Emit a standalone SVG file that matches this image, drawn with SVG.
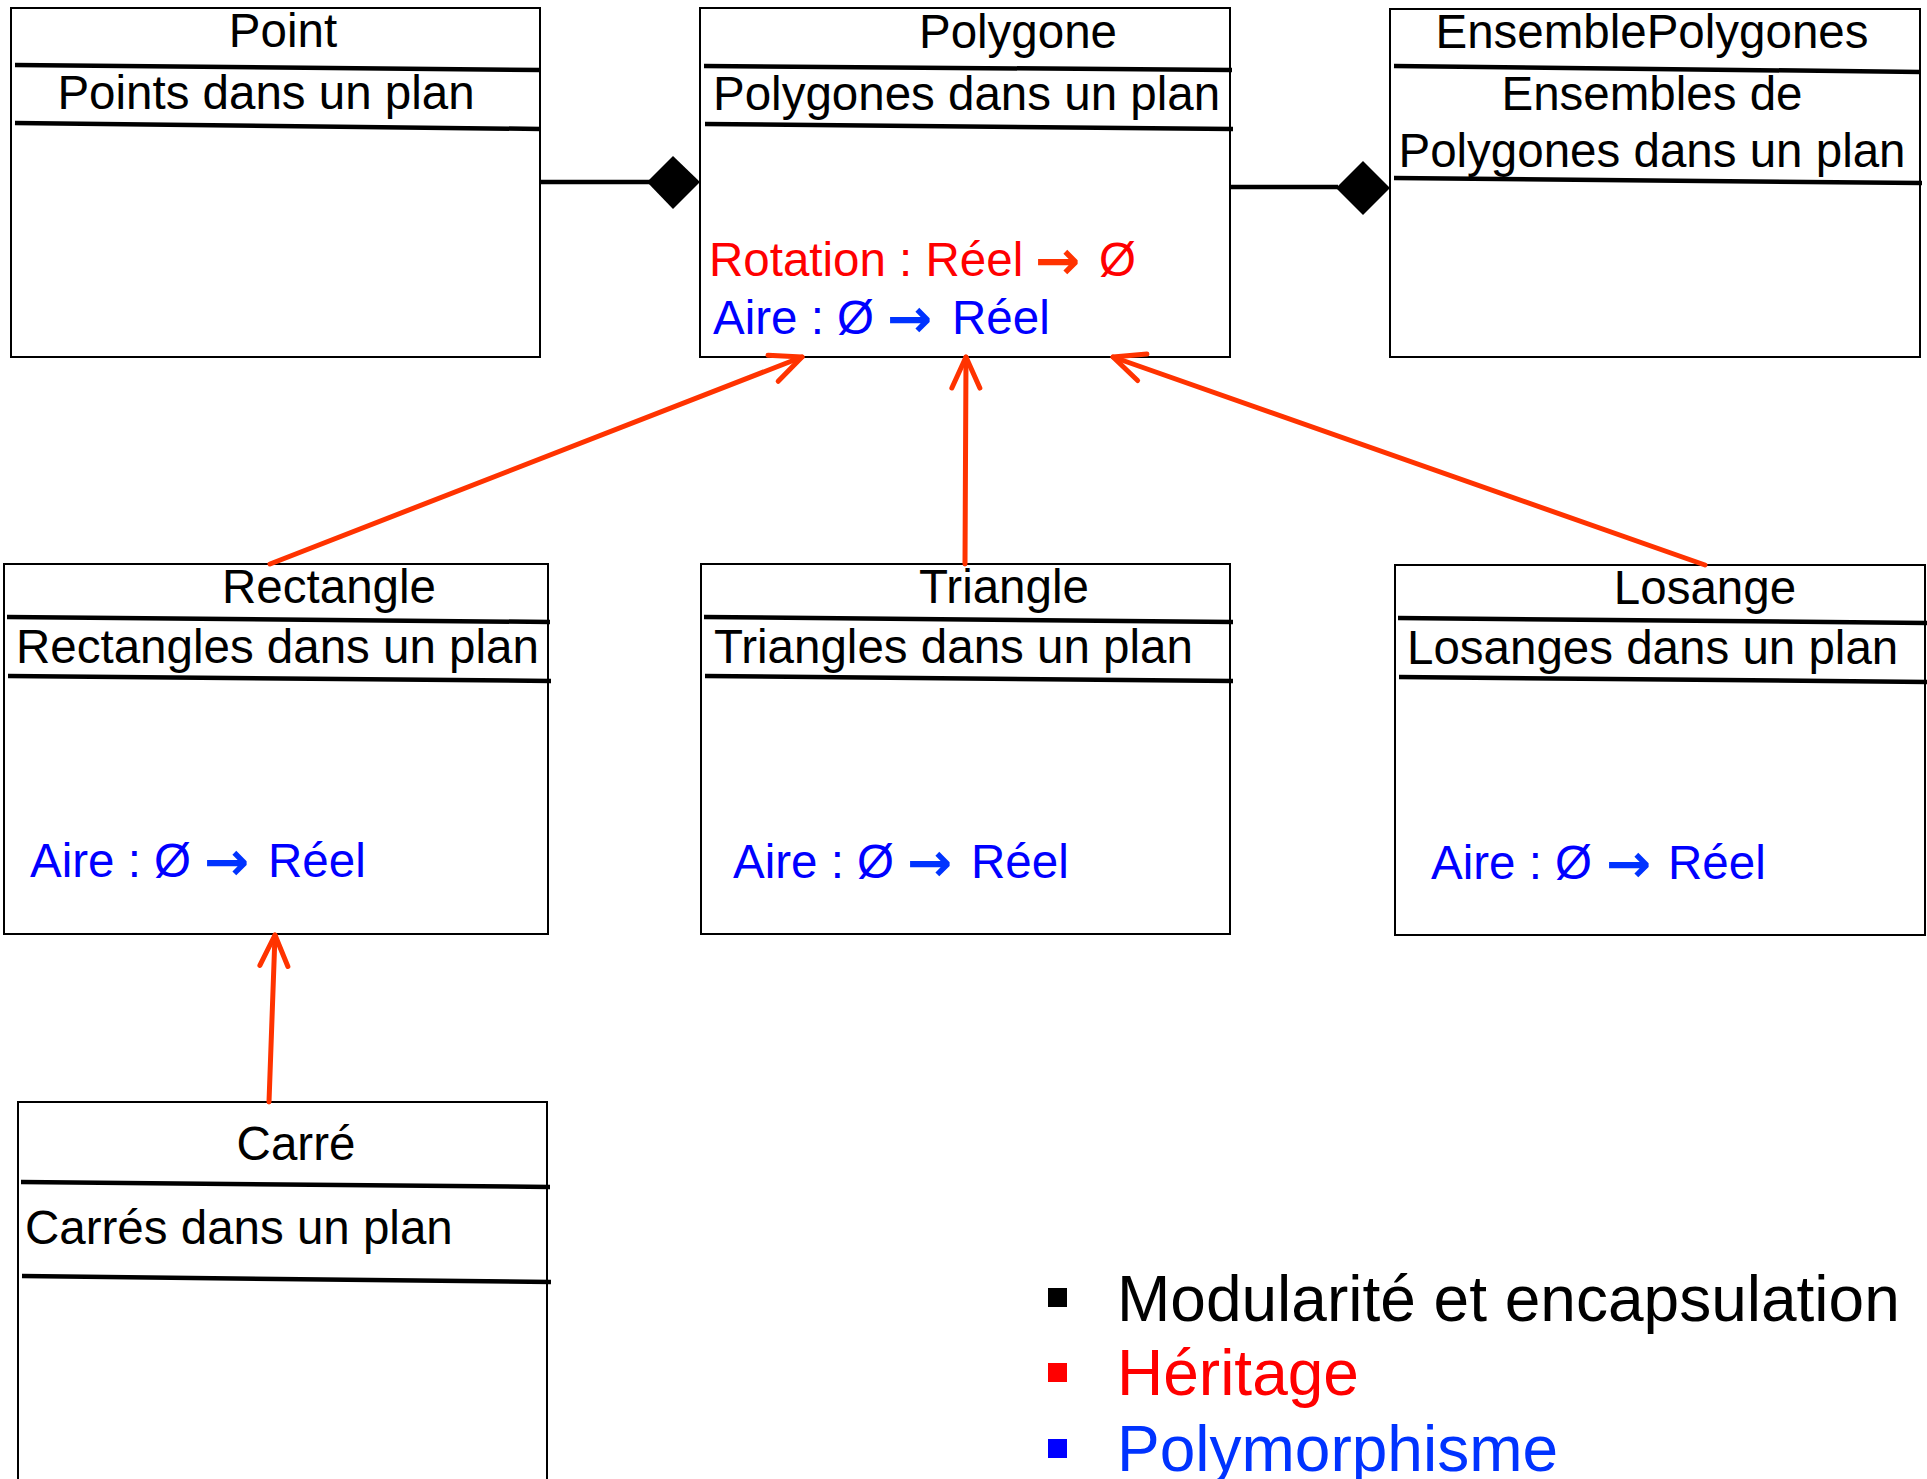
<svg xmlns="http://www.w3.org/2000/svg" width="1927" height="1479" viewBox="0 0 1927 1479">
<style>
.box{fill:#fff;stroke:#000;stroke-width:2}
.sep{stroke:#000;stroke-width:4.5;stroke-linecap:butt}
.t{font-family:"Liberation Sans",Arial,sans-serif;font-size:47.5px;fill:#000}
.c{text-anchor:middle}
.red{fill:#ff0000}
.blue{fill:#0000ff}
.ar{font-family:"DejaVu Sans",sans-serif;font-weight:bold;font-size:54px}
.ra{fill:#ff3300}
.ba{fill:#0033ff}
.inh{stroke:#ff3300;stroke-width:5;fill:none;stroke-linecap:round;marker-end:url(#open)}
.comp{stroke:#000;stroke-width:4.5;fill:none}
.dia{fill:#000}
.leg{font-family:"Liberation Sans",Arial,sans-serif;font-size:64px}
</style>
<defs>
<marker id="open" markerUnits="userSpaceOnUse" markerWidth="40" markerHeight="40" refX="0" refY="0" orient="auto" overflow="visible">
<path d="M-31,-14 L0,0 L-31,14" fill="none" stroke="#ff3300" stroke-width="5" stroke-linecap="round" stroke-linejoin="round"/>
</marker>
</defs>
<rect width="1927" height="1479" fill="#fff"/>

<g id="point">
<rect class="box" x="11" y="8" width="529" height="349"/>
<line class="sep" x1="15" y1="65" x2="541" y2="70"/>
<line class="sep" x1="15" y1="123" x2="541" y2="129"/>
<text class="t c" x="283" y="47">Point</text>
<text class="t c" x="266" y="109">Points dans un plan</text>
</g>

<g id="polygone">
<rect class="box" x="700" y="8" width="530" height="349"/>
<line class="sep" x1="704" y1="66" x2="1232" y2="70"/>
<line class="sep" x1="705" y1="124" x2="1233" y2="129"/>
<text class="t c" x="1018" y="48">Polygone</text>
<text class="t" x="713" y="110">Polygones dans un plan</text>
<text class="t red" y="276"><tspan x="709">Rotation : Réel </tspan><tspan class="ar ra" x="1035" dy="3">→</tspan><tspan x="1099" dy="-3">Ø</tspan></text>
<text class="t blue" y="334"><tspan x="713">Aire : Ø </tspan><tspan class="ar ba" x="887" dy="3">→</tspan><tspan x="952" dy="-3">Réel</tspan></text>
</g>

<g id="ensemble">
<rect class="box" x="1390" y="9" width="530" height="348"/>
<line class="sep" x1="1394" y1="66" x2="1921" y2="72"/>
<line class="sep" x1="1394" y1="178" x2="1922" y2="183"/>
<text class="t c" x="1652" y="48">EnsemblePolygones</text>
<text class="t c" x="1652" y="110">Ensembles de</text>
<text class="t c" x="1652" y="167">Polygones dans un plan</text>
</g>

<g id="rectangle">
<rect class="box" x="4" y="564" width="544" height="370"/>
<line class="sep" x1="7" y1="617" x2="550" y2="622"/>
<line class="sep" x1="8" y1="676" x2="551" y2="681"/>
<text class="t c" x="329" y="603">Rectangle</text>
<text class="t" x="16" y="663">Rectangles dans un plan</text>
<text class="t blue" y="877"><tspan x="30">Aire : Ø </tspan><tspan class="ar ba" x="204" dy="3">→</tspan><tspan x="268" dy="-3">Réel</tspan></text>
</g>

<g id="triangle">
<rect class="box" x="701" y="564" width="529" height="370"/>
<line class="sep" x1="704" y1="617" x2="1233" y2="622"/>
<line class="sep" x1="705" y1="676" x2="1233" y2="681"/>
<text class="t c" x="1004" y="603">Triangle</text>
<text class="t" x="714" y="663">Triangles dans un plan</text>
<text class="t blue" y="878"><tspan x="733">Aire : Ø </tspan><tspan class="ar ba" x="907" dy="3">→</tspan><tspan x="971" dy="-3">Réel</tspan></text>
</g>

<g id="losange">
<rect class="box" x="1395" y="565" width="530" height="370"/>
<line class="sep" x1="1398" y1="618" x2="1927" y2="623"/>
<line class="sep" x1="1399" y1="677" x2="1927" y2="682"/>
<text class="t c" x="1705" y="604">Losange</text>
<text class="t" x="1407" y="664">Losanges dans un plan</text>
<text class="t blue" y="879"><tspan x="1431">Aire : Ø </tspan><tspan class="ar ba" x="1606" dy="3">→</tspan><tspan x="1668" dy="-3">Réel</tspan></text>
</g>

<g id="carre">
<rect class="box" x="18" y="1102" width="529" height="400"/>
<line class="sep" x1="21" y1="1182" x2="550" y2="1187"/>
<line class="sep" x1="22" y1="1276" x2="551" y2="1282"/>
<text class="t c" x="296" y="1160">Carré</text>
<text class="t" x="25" y="1244">Carrés dans un plan</text>
</g>

<g id="connectors">
<line class="comp" x1="540" y1="182" x2="650" y2="182"/>
<polygon class="dia" points="647,182 673,156 700,182 673,209"/>
<line class="comp" x1="1230" y1="187" x2="1338" y2="187"/>
<polygon class="dia" points="1336,188 1363,161 1390,188 1363,215"/>
<line class="inh" x1="270" y1="564" x2="802" y2="357"/>
<line class="inh" x1="965" y1="564" x2="966" y2="357"/>
<line class="inh" x1="1705" y1="565" x2="1113" y2="357"/>
<line class="inh" x1="269" y1="1102" x2="275" y2="935"/>
</g>

<g id="legend">
<rect x="1048" y="1288" width="19" height="19" fill="#000"/>
<rect x="1048" y="1363" width="19" height="19" fill="#ff0000"/>
<rect x="1048" y="1439" width="19" height="19" fill="#0000ff"/>
<text class="leg" x="1117" y="1321" fill="#000">Modularité et encapsulation</text>
<text class="leg" x="1117" y="1395" fill="#ff0000">Héritage</text>
<text class="leg" x="1117" y="1471" fill="#0033ff">Polymorphisme</text>
</g>
</svg>
